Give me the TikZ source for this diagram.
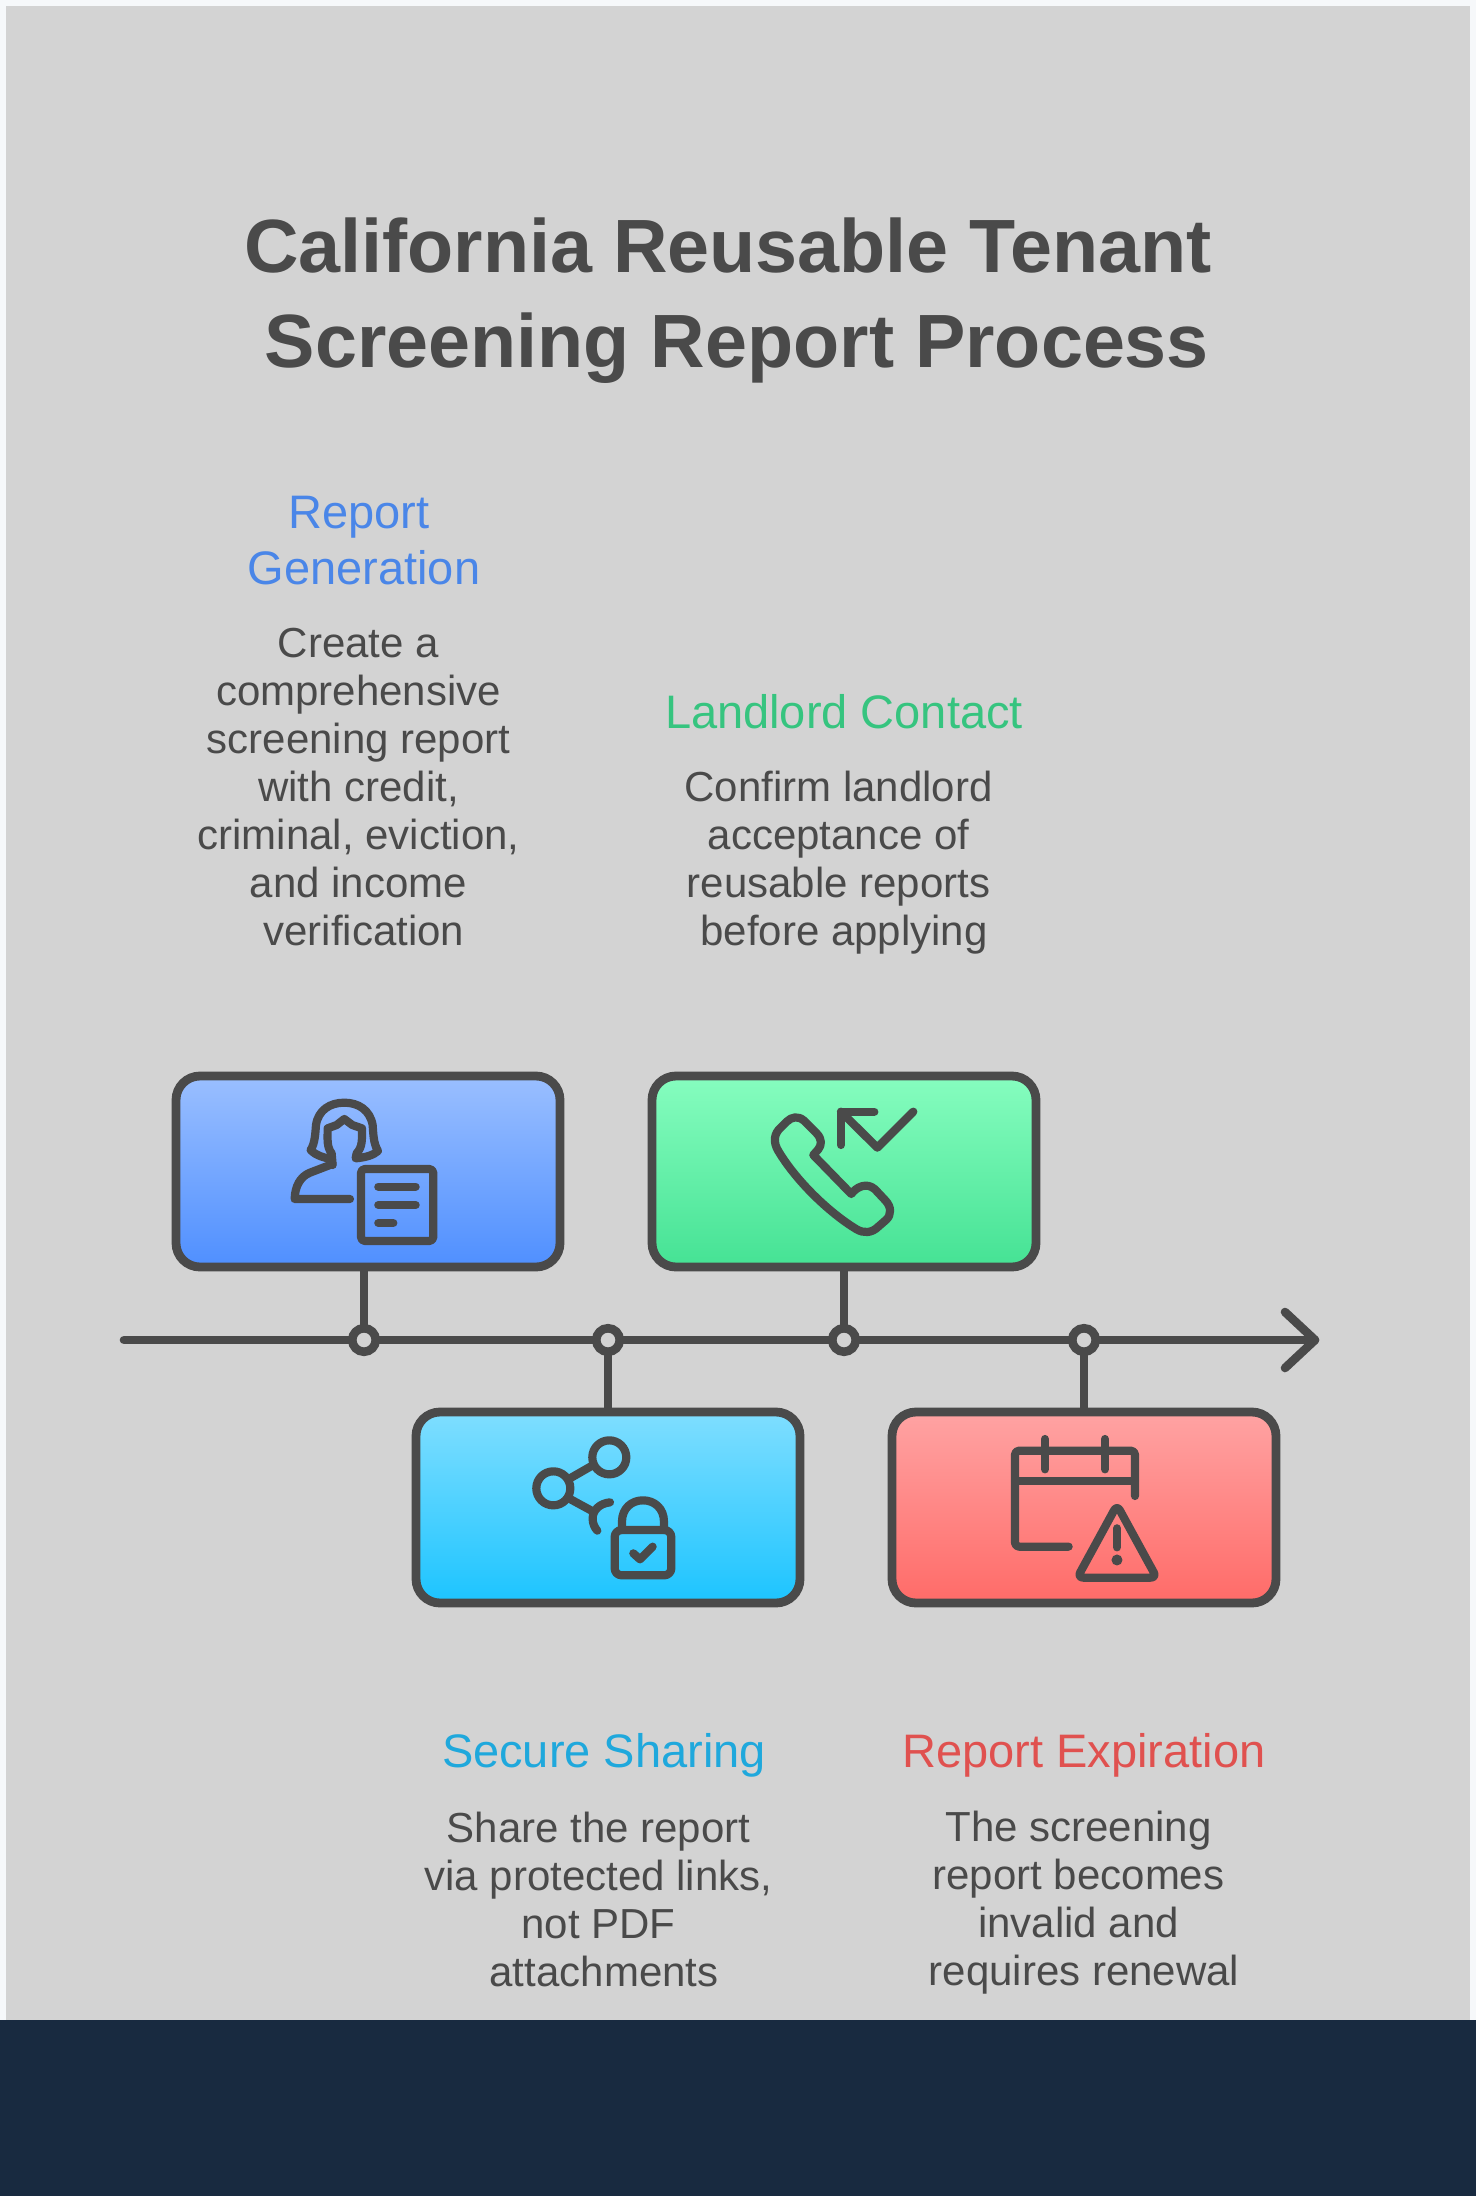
\documentclass[tikz,border=0pt]{standalone}
\usepackage{fontspec}
\setmainfont{Liberation Sans}
\newcommand{\trailed}[2][11pt]{\mbox{#2\kern#1}}
\definecolor{ink}{HTML}{4A4A4A}
\definecolor{paper}{HTML}{D3D3D3}
\definecolor{rim}{HTML}{F6F8FA}
\definecolor{navy}{HTML}{182A40}
\definecolor{hblue}{HTML}{4A86E8}
\definecolor{hgreen}{HTML}{36C47F}
\definecolor{hcyan}{HTML}{1FA8DC}
\definecolor{hred}{HTML}{E0514F}
\tikzset{
  stepcard/.style={draw=ink,line width=8.8pt,rounded corners=24pt,inner sep=0pt,outer sep=0pt,minimum width=384pt,minimum height=191pt,anchor=north west,shade},
  axisline/.style={draw=ink,line width=8.6pt,line cap=round,line join=round},
  stem/.style={draw=ink,line width=8.6pt},
  dot/.style={circle,draw=ink,line width=8.6pt,fill=paper,minimum size=23.5pt,inner sep=0pt,outer sep=0pt},
  glyph/.style={draw=ink,line width=8.2pt,line cap=round,line join=round},
  heading/.style={font=\fontsize{47}{56}\selectfont,align=center,inner sep=0pt},
  body/.style={font=\fontsize{42}{48}\selectfont,text=ink,align=center,inner sep=0pt},
  titletext/.style={font=\fontsize{75.5}{95}\selectfont\bfseries,text=ink,align=center,inner sep=0pt},
  zoomed/.style={x=0.3333pt,y=-0.3333pt}
}
\begin{document}
\begin{tikzpicture}[x=1pt,y=-1pt]
\useasboundingbox (0,0) rectangle (1476,2196);
\fill[rim] (0,0) rectangle (1476,2196);
\fill[paper] (6,6) rectangle (1470,2020);
\fill[navy] (0,2020) rectangle (1476,2196);

\node[titletext] (title) at (737,301) {\trailed[18pt]{California Reusable Tenant}\\Screening Report Process};

\node[heading,text=hblue] (h1) at (364,541) {\trailed[10pt]{Report}\\Generation};
\node[body] (b1) at (364,787) {\trailed{Create a}\\\trailed{comprehensive}\\\trailed{screening report}\\\trailed{with credit,}\\\trailed{criminal, eviction,}\\\trailed{and income}\\verification};
\node[heading,text=hgreen] (h2) at (844,712) {Landlord Contact};
\node[body] (b2) at (844,863) {\trailed{Confirm landlord}\\\trailed{acceptance of}\\\trailed{reusable reports}\\before applying};
\node[heading,text=hcyan] (h3) at (604,1755) {Secure Sharing};
\node[body] (b3) at (604,1899) {\trailed{Share the report}\\\trailed{via protected links,}\\\trailed{not PDF}\\attachments};
\node[heading,text=hred] (h4) at (1084,1755) {Report Expiration};
\node[body] (b4) at (1084,1903) {\trailed{The screening}\\\trailed{report becomes}\\\trailed{invalid and}\\requires renewal};

\coordinate (axisL) at (124,1340);
\coordinate (axisR) at (1315,1340);
\coordinate (tipA) at (1285,1312);
\coordinate (tipB) at (1285,1368);
\draw[axisline] (axisL) -- (axisR);
\draw[axisline] (tipA) -- (axisR) -- (tipB);

\node[stepcard,top color={rgb,255:red,154;green,191;blue,255},bottom color={rgb,255:red,79;green,143;blue,255}] (c1) at (176,1076) {};
\node[stepcard,top color={rgb,255:red,134;green,253;blue,191},bottom color={rgb,255:red,69;green,226;blue,148}] (c2) at (652,1076) {};
\node[stepcard,top color={rgb,255:red,127;green,222;blue,255},bottom color={rgb,255:red,28;green,196;blue,255}] (c3) at (416,1412) {};
\node[stepcard,top color={rgb,255:red,255;green,163;blue,163},bottom color={rgb,255:red,255;green,107;blue,104}] (c4) at (892,1412) {};

\node[dot] (d1) at (364,1340) {};
\node[dot] (d2) at (608,1340) {};
\node[dot] (d3) at (844,1340) {};
\node[dot] (d4) at (1084,1340) {};
\draw[stem] (d1.north |- c1.south) -- (d1.north);
\draw[stem] (d3.north |- c2.south) -- (d3.north);
\draw[stem] (d2.south |- c3.north) -- (d2.south);
\draw[stem] (d4.south |- c4.north) -- (d4.south);

% person with document
\begin{scope}[shift={(160,1050)},zoomed]
\draw[glyph] (518,345) -- (515,310) .. controls (500,290) and (503,270) .. (503,235) -- (530,225) -- (553,207) -- (577,225) -- (606,235) .. controls (606,270) and (608,290) .. (590,310) -- (587,325) .. controls (620,322) and (640,315) .. (654,303) .. controls (640,280) and (640,250) .. (638,225) .. controls (630,180) and (595,158) .. (553,158) .. controls (510,158) and (475,180) .. (468,225) .. controls (466,250) and (465,280) .. (452,300) .. controls (470,318) and (490,322) .. (515,328);
\draw[glyph] (518,342) -- (450,368) .. controls (420,380) and (405,410) .. (404,447) -- (570,447);
\draw[glyph,rounded corners=4pt] (603,357) rectangle (820,573);
\draw[glyph] (655,410) -- (767,410);
\draw[glyph] (655,465) -- (767,465);
\draw[glyph] (655,519) -- (700,519);
\end{scope}

% phone with check
\begin{scope}[shift={(640,1050)},zoomed]
\draw[glyph] (520,315) -- (634,432) .. controls (648,412) and (680,395) .. (705,418) -- (735,450) .. controls (755,470) and (755,495) .. (738,510) -- (715,530) .. controls (695,550) and (670,550) .. (650,538) .. controls (570,490) and (470,395) .. (415,303) .. controls (398,275) and (403,250) .. (422,233) -- (440,215) .. controls (455,200) and (475,197) .. (492,212) -- (530,250) .. controls (547,268) and (545,285) .. (535,298) -- cycle;
\draw[glyph] (820,185) -- (712,293) -- (603,185);
\draw[glyph] (703,185) -- (603,185) -- (603,285);
\end{scope}

% share with padlock
\begin{scope}[shift={(400,1390)},zoomed]
\draw[glyph] (628,202) circle[radius=17pt];
\draw[glyph] (460,295) circle[radius=17pt];
\draw[glyph] (510,265) -- (578,226);
\draw[glyph] (512,328) -- (580,365);
\draw[glyph] (630,337) .. controls (600,340) and (578,360) .. (578,385) .. controls (578,400) and (583,412) .. (592,422);
\draw[glyph,rounded corners=7pt] (644,420) rectangle (814,556);
\draw[glyph] (666,420) -- (666,395) .. controls (666,355) and (695,331) .. (729,331) .. controls (763,331) and (792,355) .. (792,395) -- (792,420);
\draw[glyph] (700,490) -- (720,508) -- (758,470);
\end{scope}

% calendar with warning
\begin{scope}[shift={(880,1310)},zoomed]
\draw[glyph,rounded corners=4pt] (566,710) -- (405,710) -- (405,422) -- (765,422) -- (765,558);
\draw[glyph] (405,513) -- (765,513);
\draw[glyph] (495,387) -- (495,478);
\draw[glyph] (675,387) -- (675,478);
\draw[glyph,rounded corners=6pt] (711,585) -- (830,803) -- (592,803) -- cycle;
\draw[glyph] (711,655) -- (711,712);
\fill[ink] (711,750) circle[radius=5.5pt];
\end{scope}
\end{tikzpicture}
\end{document}
